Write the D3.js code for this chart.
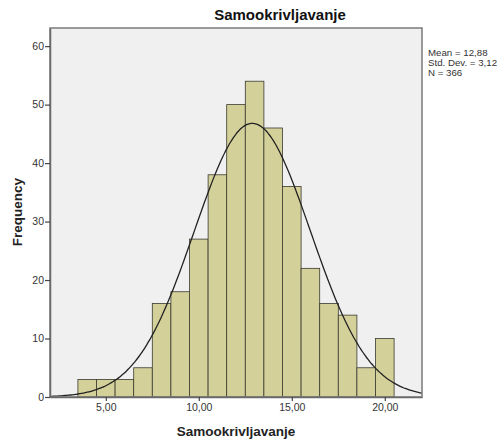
<!DOCTYPE html>
<html>
<head>
<meta charset="utf-8">
<script src="https://cdn.jsdelivr.net/npm/d3@7"></script>
<style>
  body { margin: 0; background: #fff; }
  text { font-family: Arial, "Liberation Sans", sans-serif; }
</style>
</head>
<body>
<div id="chart"></div>
<script>
// bin centres (bin width 1) and counts
const binCenters = [4, 5, 6, 7, 8, 9, 10, 11, 12, 13, 14, 15, 16, 17, 18, 19, 20]
const counts = [3, 3, 3, 5, 16, 18, 27, 38, 50, 54, 46, 36, 22, 16, 14, 5, 10]
const xTicks = [5, 10, 15, 20]
const yTicks = [0, 10, 20, 30, 40, 50, 60]
const mean = 12.88
const sd = 3.12
const n = 366
const binWidth = 1

function draw() {
    let dimensions = {
        width: 503,
        height: 444,
        left: 50,
        right: 81,
        top: 28,
        bottom: 47,
    }
    dimensions.ctrWidth = dimensions.width - dimensions.left - dimensions.right
    dimensions.ctrHeight = dimensions.height - dimensions.top - dimensions.bottom

    const svg = d3.select('#chart')
        .append("svg")
        .attr("width", dimensions.width)
        .attr("height", dimensions.height)

    const ctr = svg.append("g")
        .attr("transform", `translate(${dimensions.left}, ${dimensions.top})`)

    const x = d3.scaleLinear()
        .domain([2, 22])
        .range([0, dimensions.ctrWidth])

    const y = d3.scaleLinear()
        .domain([0, 63.1])
        .range([dimensions.ctrHeight, 0])

    // background
    ctr.append("rect")
        .attr("width", dimensions.ctrWidth)
        .attr("height", dimensions.ctrHeight)
        .attr("fill", "#f0f0f0")

    // bars
    ctr.selectAll(".bar")
        .data(binCenters)
        .join("rect")
        .attr("class", "bar")
        .attr("x", (d) => x(d - binWidth / 2))
        .attr("width", (d) => x(d + binWidth / 2) - x(d - binWidth / 2))
        .attr("y", (d, i) => y(counts[i]))
        .attr("height", (d, i) => y(0) - y(counts[i]))
        .attr("fill", "#d4d09a")
        .attr("stroke", "#3a3a30")
        .attr("stroke-width", 0.8)

    // normal curve from the stats
    const curveX = d3.range(2, 22.01, 0.1)
    const dens = (v) => n * binWidth / (sd * Math.sqrt(2 * Math.PI)) * Math.exp(-0.5 * ((v - mean) / sd) ** 2)
    const line = d3.line()
        .x((d) => x(d))
        .y((d) => y(dens(d)))
        .curve(d3.curveBasis)
    ctr.append("path")
        .datum(curveX)
        .attr("d", line)
        .attr("fill", "none")
        .attr("stroke", "#222")
        .attr("stroke-width", 1.3)

    // frame
    ctr.append("rect")
        .attr("width", dimensions.ctrWidth)
        .attr("height", dimensions.ctrHeight)
        .attr("fill", "none")
        .attr("stroke", "#7a7a7a")
        .attr("stroke-width", 1.5)

    // axes
    const xAxis = ctr.append("g")
        .attr("transform", `translate(0, ${dimensions.ctrHeight})`)
        .call(d3.axisBottom(x).tickValues(xTicks).tickSize(4).tickSizeOuter(0)
            .tickFormat((d) => d3.format(".2f")(d).replace(".", ",")))
    const yAxis = ctr.append("g")
        .call(d3.axisLeft(y).tickValues(yTicks).tickSize(5).tickSizeOuter(0))

    for (const a of [xAxis, yAxis]) {
        a.select(".domain").attr("stroke", "#6a6a6a").attr("stroke-width", 1.5)
        a.selectAll(".tick line").attr("stroke", "#444").attr("stroke-width", 1.2)
        a.selectAll(".tick text").attr("fill", "#333").attr("font-size", 10.5)
            .attr("font-family", "Arial, 'Liberation Sans', sans-serif")
    }
    yAxis.selectAll(".tick text").attr("x", -6)

    // title
    svg.append("text")
        .attr("x", 280)
        .attr("y", 20)
        .attr("text-anchor", "middle")
        .attr("font-size", 15)
        .attr("font-weight", "bold")
        .attr("fill", "#111")
        .text("Samookrivljavanje")

    // x label
    svg.append("text")
        .attr("x", 236)
        .attr("y", 436)
        .attr("text-anchor", "middle")
        .attr("font-size", 13.5)
        .attr("font-weight", "bold")
        .attr("fill", "#222")
        .text("Samookrivljavanje")

    // y label
    svg.append("text")
        .attr("transform", "translate(22, 212) rotate(-90)")
        .attr("text-anchor", "middle")
        .attr("font-size", 13.5)
        .attr("font-weight", "bold")
        .attr("fill", "#222")
        .text("Frequency")

    // stats
    const stats = ["Mean = 12,88", "Std. Dev. = 3,12", "N = 366"]
    svg.append("g")
        .selectAll("text")
        .data(stats)
        .join("text")
        .attr("x", 428)
        .attr("y", (d, i) => 56 + i * 10)
        .attr("font-size", 9.7)
        .attr("fill", "#333")
        .text((d) => d)
}
draw()
</script>
</body>
</html>
